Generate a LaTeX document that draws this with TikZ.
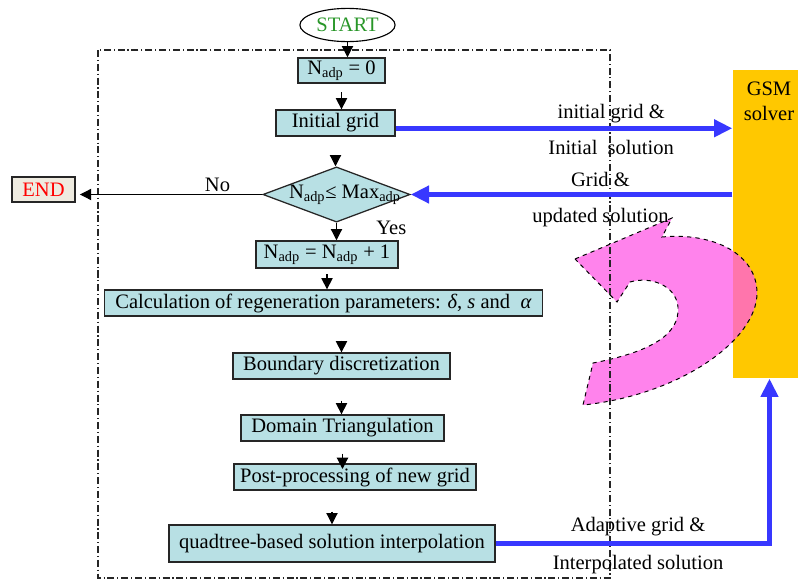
\documentclass[tikz,border=0pt]{standalone}
\usepackage{fontspec}
\setmainfont{Liberation Serif}
\usetikzlibrary{shapes.geometric,arrows.meta}
\definecolor{boxfill}{RGB}{184,224,228}
\definecolor{endfill}{RGB}{238,235,224}
\definecolor{solver}{RGB}{255,200,0}
\definecolor{flowblue}{RGB}{56,56,255}
\definecolor{turn}{RGB}{255,90,230}
\definecolor{startgreen}{RGB}{40,150,40}
\newcommand{\nadp}{N\textsubscript{adp}}

\begin{document}
\begin{tikzpicture}[x=0.025cm,y=-0.025cm,
  every node/.style={font=\fontsize{14.6}{18}\selectfont},
  box/.style={draw=black!85,line width=0.9pt,fill=boxfill,inner sep=0pt,minimum height=0.65cm},
  flow/.style={-{Triangle[length=8pt,width=8pt]},line width=0.8pt},
  feed/.style={-{Triangle[length=13pt,width=12pt]},line width=3.6pt,flowblue},
  lbl/.style={inner sep=0pt,text depth=0pt,text=black},
  frame/.style={line width=0.8pt,black!85,dash pattern=on 5pt off 2pt on 0.8pt off 2pt}]
\useasboundingbox (0,0) rectangle (798,580);
\node[draw,ellipse,line width=0.8pt,inner sep=0pt,minimum width=2.38cm,minimum height=0.83cm,text=startgreen] (start) at (347.5,25) {START};
\node[box,minimum width=2.18cm,minimum height=0.63cm] (nzero) at (341.5,70.5) {\nadp{} = 0};
\node[box,minimum width=2.98cm] (init) at (335.5,123) {Initial grid};
\node[box,diamond,minimum width=3.68cm,minimum height=1.38cm] (cond) at (336.5,194.5) {\makebox[0pt]{\hspace{12pt}\nadp{}≤ Max\textsubscript{adp}}};
\node[box,fill=endfill,minimum width=1.58cm,minimum height=0.63cm,text=red] (end) at (43.5,189.5) {END};
\node[box,minimum width=3.55cm,minimum height=0.68cm] (nplus) at (327,254.5) {\nadp{} = \nadp{} + 1};
\node[box,minimum width=10.93cm] (calc) at (323.5,303) {Calculation of regeneration parameters: \textit{δ}, \textit{s} and \ \textit{α}};
\node[box,minimum width=5.43cm] (bound) at (341.5,366) {Boundary discretization};
\node[box,minimum width=5.08cm] (tri) at (342.5,428) {Domain Triangulation};
\node[box,minimum width=6.05cm] (post) at (355,477) {Post-processing of new grid};
\node[box,minimum width=8.15cm,minimum height=0.93cm] (interp) at (332,543.5) {quadtree-based solution interpolation};

\node[frame,fill=solver,minimum width=1.83cm,minimum height=7.7cm] (gsm) at (769.5,224) {};
\node[align=center] (gsmtext) at (769,101) {GSM\\solver};

\filldraw[fill=turn,fill opacity=0.75,draw=black,dashed,line width=0.7pt]
  (575,259) -- (672,218) -- (662,237)
  .. controls (715,232) and (757,255) .. (757,293)
  .. controls (757,340) and (680,395) .. (583,405)
  -- (593,363)
  .. controls (650,352) and (680,335) .. (678,307)
  .. controls (676,285) and (650,276) .. (630,282)
  -- (617,302) -- cycle;

\draw[frame] (98,50) rectangle (610,578);

\draw[flow] (start) -- (start |- nzero.north);
\draw[flow,shorten <=6pt] (nzero) -- (nzero |- init.north);
\draw[flow,shorten <=13pt] (init) -- (init |- cond.north);
\draw[flow] (cond) -- (cond |- nplus.north) node[lbl,pos=0.3,right=28pt]{Yes};
\draw[flow,shorten <=4pt] (nplus) -- (nplus |- calc.north);
\draw[flow,shorten <=17pt] (calc.south -| bound) -- (bound);
\draw[flow,shorten <=15pt] (bound) -- (bound |- tri.north);
\draw[flow,shorten <=8.5pt,shorten >=-4pt] (tri) -- (tri |- post.north);
\draw[flow,shorten <=15pt] (post.south -| interp) -- (interp);
\draw[flow,shorten >=3pt] (cond.west) -- (cond.west -| end.east) node[lbl,pos=0.24,above=2pt]{No};

\draw[feed] (init.-5.8) -- (init.-5.8 -| gsm.west)
  node[lbl,pos=0.64,above=5pt]{initial grid \&}
  node[lbl,pos=0.64,below=7pt]{Initial\ \ solution};
\draw[feed] (gsm.west |- cond.east) -- (cond.east)
  node[lbl,pos=0.41,above=4pt]{Grid \&}
  node[lbl,pos=0.41,below=8pt]{updated solution};
\draw[feed] (interp.east) -| (gsm.south)
  node[lbl,pos=0.26,above=7pt]{Adaptive grid \&}
  node[lbl,pos=0.26,below=6.5pt]{Interpolated solution};
\end{tikzpicture}
\end{document}
